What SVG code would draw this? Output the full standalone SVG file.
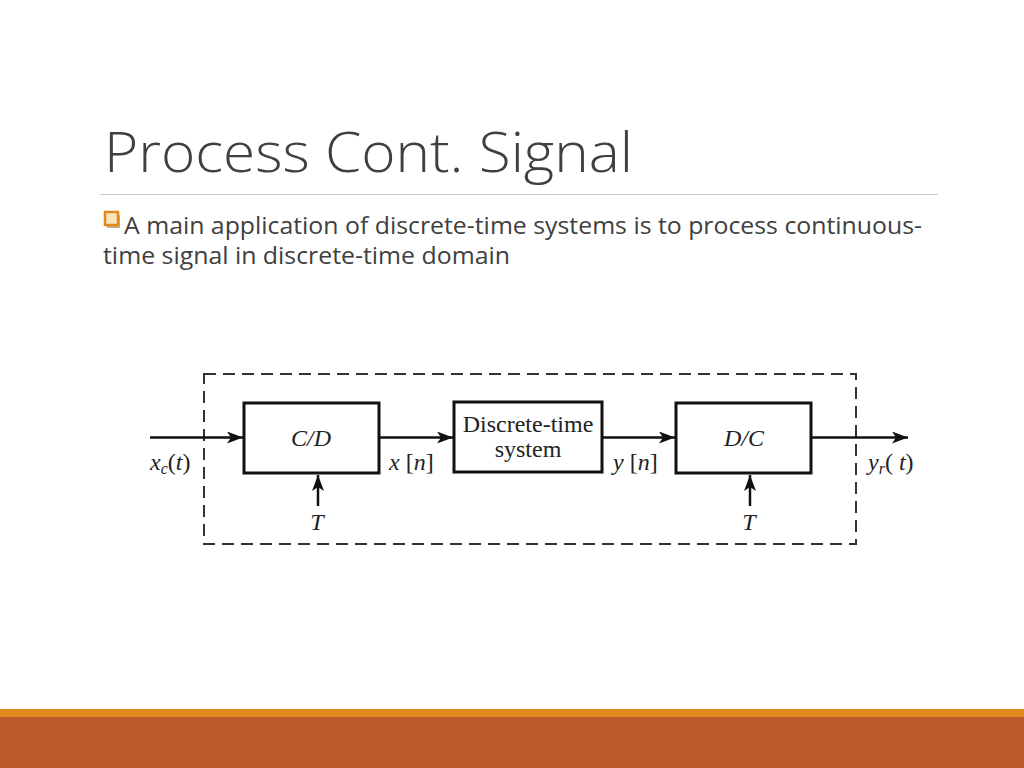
<svg xmlns="http://www.w3.org/2000/svg" width="1024" height="768" viewBox="0 0 1024 768">
<defs>
<style>
.title{font-family:"Open Sans","Liberation Sans",sans-serif;font-weight:300;font-size:56px;fill:#404040}
.body{font-family:"Open Sans","Liberation Sans",sans-serif;font-size:23px;fill:#404040}
.blk{fill:#fff;stroke:#111;stroke-width:3}
.lbl{font-family:"Liberation Serif",serif;font-size:24px;fill:#222}
.it{font-style:italic}
.wire{stroke:#111;stroke-width:2.5;fill:none}
</style>
<marker id="ah" viewBox="0 0 16 12" refX="16" refY="6" markerWidth="16" markerHeight="12" markerUnits="userSpaceOnUse" orient="auto">
<path d="M0,0 L16,6 L0,12 L4,6 Z" fill="#111"/>
</marker>
</defs>
<rect width="1024" height="768" fill="#fff"/>
<text class="title" x="104" y="172" textLength="529" lengthAdjust="spacingAndGlyphs">Process Cont. Signal</text>
<line x1="100" y1="194.5" x2="938" y2="194.5" stroke="#c8c8c8" stroke-width="1"/>
<rect x="107" y="215" width="13" height="13" fill="#9a5a10" opacity="0.5"/>
<rect x="105" y="212" width="13" height="13" fill="#fbe3c0" stroke="#E08A1E" stroke-width="2.5"/>
<text class="body" x="124" y="234" textLength="798" lengthAdjust="spacingAndGlyphs">A main application of discrete-time systems is to process continuous-</text>
<text class="body" x="103" y="264" textLength="407" lengthAdjust="spacingAndGlyphs">time signal in discrete-time domain</text>
<rect x="204" y="374" width="652" height="170" fill="none" stroke="#333" stroke-width="2" stroke-dasharray="12,7"/>
<g id="cd"><rect class="blk" x="244" y="403" width="135" height="70"/><text class="lbl it" x="311" y="446" text-anchor="middle">C/D</text></g>
<g id="dts"><rect class="blk" x="454" y="402" width="148" height="70"/><text class="lbl" x="528" y="432" text-anchor="middle" font-size="22.5">Discrete-time</text><text class="lbl" x="528" y="457" text-anchor="middle" font-size="22.5">system</text></g>
<g id="dc"><rect class="blk" x="676" y="403" width="135" height="70"/><text class="lbl it" x="744" y="446" text-anchor="middle">D/C</text></g>
<g id="connectors">
<line class="wire" x1="150" y1="437.5" x2="243" y2="437.5" marker-end="url(#ah)"/>
<line class="wire" x1="380" y1="437.5" x2="453" y2="437.5" marker-end="url(#ah)"/>
<line class="wire" x1="603" y1="437.5" x2="675" y2="437.5" marker-end="url(#ah)"/>
<line class="wire" x1="812" y1="437.5" x2="908" y2="437.5" marker-end="url(#ah)"/>
<line class="wire" x1="318" y1="506" x2="318" y2="475" marker-end="url(#ah)"/>
<line class="wire" x1="750" y1="506" x2="750" y2="475" marker-end="url(#ah)"/>
</g>
<text class="lbl it" x="150" y="470">x<tspan font-size="16" dy="4">c</tspan><tspan font-style="normal" dy="-4">(</tspan>t<tspan font-style="normal">)</tspan></text>
<text class="lbl" x="389" y="470"><tspan font-style="italic">x</tspan> [<tspan font-style="italic">n</tspan>]</text>
<text class="lbl" x="613" y="470"><tspan font-style="italic">y</tspan> [<tspan font-style="italic">n</tspan>]</text>
<text class="lbl it" x="868" y="470">y<tspan font-size="16" dy="4">r</tspan><tspan font-style="normal" dy="-4">( </tspan>t<tspan font-style="normal">)</tspan></text>
<text class="lbl it" x="317" y="530" text-anchor="middle">T</text>
<text class="lbl it" x="749" y="530" text-anchor="middle">T</text>
<rect x="0" y="709" width="1024" height="8" fill="#E08A1E"/>
<rect x="0" y="717" width="1024" height="51" fill="#BC5A2C"/>
</svg>
